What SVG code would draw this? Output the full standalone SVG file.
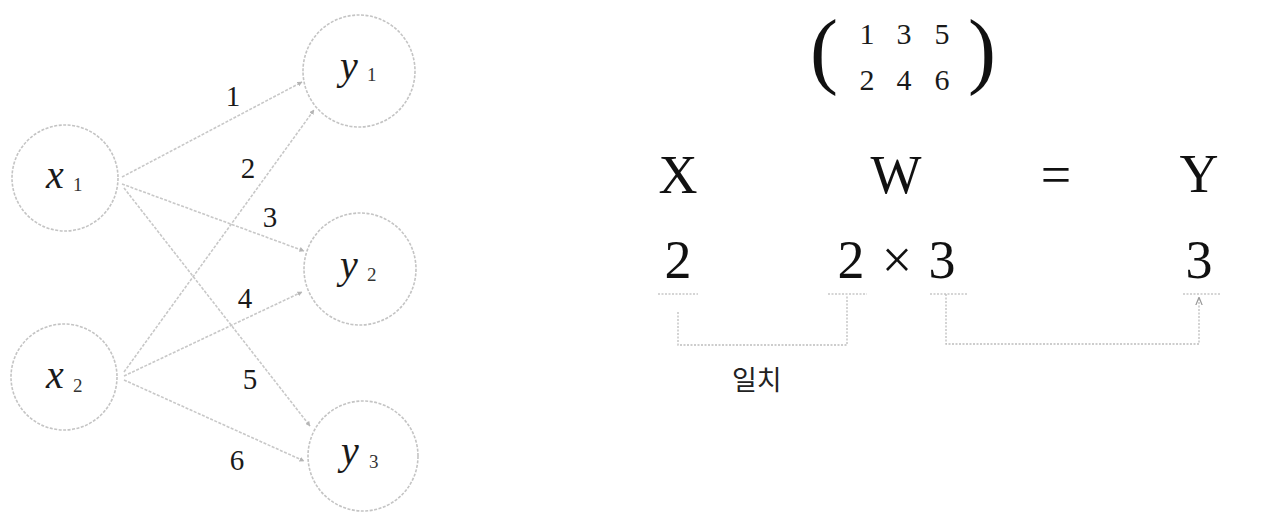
<svg xmlns="http://www.w3.org/2000/svg" width="1266" height="529" viewBox="0 0 1266 529">
<defs>
<style>
.node{fill:none;stroke:#c4c4c4;stroke-width:1.6;stroke-dasharray:3 1.5}
.edge{fill:none;stroke:#c8c8c8;stroke-width:1.6;stroke-dasharray:3 1.5}
.br{fill:none;stroke:#bdbdbd;stroke-width:1.3;stroke-dasharray:2 1.5}
.dash{fill:none;stroke:#c8c8c8;stroke-width:1.3;stroke-dasharray:2 1.5}
.var{font-family:"Liberation Serif",serif;font-style:italic;font-size:40px;fill:#1a1a1a}
.sub{font-family:"Liberation Serif",serif;font-size:19px;fill:#333}
.w{font-family:"Liberation Serif",serif;font-size:29px;fill:#1a1a1a;text-anchor:middle}
.big{font-family:"Liberation Serif",serif;font-size:54px;fill:#111;text-anchor:middle}
.mat{font-family:"Liberation Serif",serif;font-size:30px;fill:#1a1a1a;text-anchor:middle}
.par{font-family:"Liberation Serif",serif;font-size:84px;fill:#111;text-anchor:middle}
.kr{font-family:"Noto Sans CJK KR","Noto Sans",sans-serif;font-size:27px;fill:#222}
</style>
<marker id="ah" viewBox="0 0 10 10" refX="9" refY="5" markerWidth="5" markerHeight="5" orient="auto-start-reverse" markerUnits="userSpaceOnUse">
<path d="M0,0 L10,5 L0,10 z" fill="#b5b5b5"/>
</marker>
<marker id="ah2" viewBox="0 0 10 10" refX="9" refY="5" markerWidth="8" markerHeight="8" orient="auto" markerUnits="userSpaceOnUse">
<path d="M0,1 L10,5 L0,9" fill="none" stroke="#999" stroke-width="1.5"/>
</marker>
</defs>
<rect width="1266" height="529" fill="#ffffff"/>

<g id="connectors">
<line class="edge" x1="122" y1="177" x2="302" y2="82" marker-end="url(#ah)"/>
<line class="edge" x1="122" y1="184" x2="304" y2="251" marker-end="url(#ah)"/>
<line class="edge" x1="124" y1="188" x2="310" y2="426" marker-end="url(#ah)"/>
<line class="edge" x1="124" y1="372" x2="314" y2="110" marker-end="url(#ah)"/>
<line class="edge" x1="124" y1="376" x2="302" y2="292" marker-end="url(#ah)"/>
<line class="edge" x1="124" y1="380" x2="304" y2="461" marker-end="url(#ah)"/>
</g>

<g id="weights">
<text class="w" x="233" y="106">1</text>
<text class="w" x="248" y="178">2</text>
<text class="w" x="270" y="227">3</text>
<text class="w" x="245" y="308">4</text>
<text class="w" x="250" y="389">5</text>
<text class="w" x="237" y="470">6</text>
</g>

<g id="node-x1">
<circle class="node" cx="65" cy="178" r="53"/>
<text class="var" x="46" y="188">x</text><text class="sub" x="73" y="191">1</text>
</g>
<g id="node-x2">
<circle class="node" cx="64" cy="377" r="53"/>
<text class="var" x="46" y="388">x</text><text class="sub" x="73" y="392">2</text>
</g>
<g id="node-y1">
<circle class="node" cx="359" cy="71" r="56"/>
<text class="var" x="340" y="79">y</text><text class="sub" x="367" y="81">1</text>
</g>
<g id="node-y2">
<circle class="node" cx="360" cy="269" r="56"/>
<text class="var" x="340" y="278">y</text><text class="sub" x="367" y="281">2</text>
</g>
<g id="node-y3">
<circle class="node" cx="363" cy="456" r="55"/>
<text class="var" x="341" y="464">y</text><text class="sub" x="369" y="468">3</text>
</g>

<g id="matrix">
<text class="par" x="824" y="78">(</text>
<text class="par" x="982" y="78">)</text>
<text class="mat" x="867" y="44">1</text>
<text class="mat" x="904" y="44">3</text>
<text class="mat" x="942" y="44">5</text>
<text class="mat" x="867" y="90">2</text>
<text class="mat" x="904" y="90">4</text>
<text class="mat" x="942" y="90">6</text>
</g>

<g id="equation">
<text class="big" x="678" y="193">X</text>
<text class="big" x="896" y="193">W</text>
<text class="big" x="1056" y="193">=</text>
<text class="big" x="1199" y="192">Y</text>
<text class="big" x="678" y="278">2</text>
<text class="big" x="851" y="278">2</text>
<text class="big" x="897" y="278">×</text>
<text class="big" x="942" y="278">3</text>
<text class="big" x="1199" y="278">3</text>
</g>

<g id="brackets">
<line class="dash" x1="658" y1="294" x2="698" y2="294"/>
<line class="dash" x1="828" y1="294" x2="867" y2="294"/>
<line class="dash" x1="930" y1="294" x2="968" y2="294"/>
<line class="dash" x1="1183" y1="294" x2="1220" y2="294"/>
<polyline class="br" points="678,312 678,345 847,345 847,295"/>
<polyline class="br" points="946,294 946,344 1199,344 1199,298" marker-end="url(#ah2)"/>
<text class="kr" x="732" y="390">일치</text>
</g>
</svg>
